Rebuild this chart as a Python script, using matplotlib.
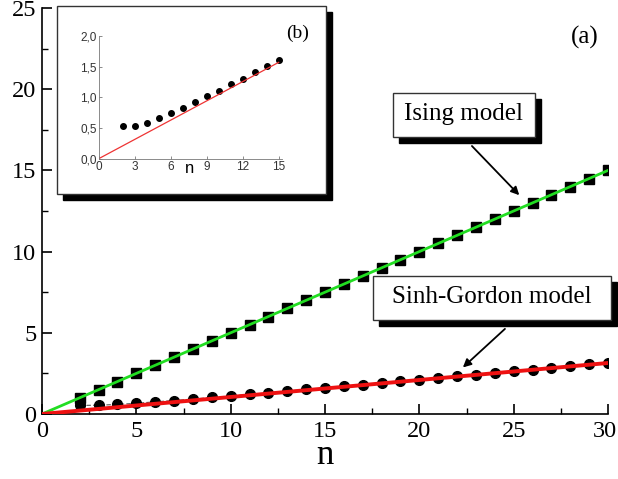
import matplotlib
matplotlib.use("Agg")
import matplotlib.pyplot as plt
from matplotlib.patches import Rectangle
from matplotlib.transforms import ScaledTranslation
import numpy as np

# ---- data ----
n_vals = list(range(2, 31))
ising_vals = [0.5 * n for n in n_vals]
sinh_vals = [0.53, 0.54, 0.59, 0.66, 0.75, 0.83, 0.92, 1.02, 1.11, 1.21, 1.30, 1.41, 1.51, 1.61,
             1.70, 1.81, 1.91, 2.01, 2.12, 2.22, 2.33, 2.43, 2.53, 2.64, 2.74, 2.85, 2.95, 3.06, 3.16]
line_x = [0, 30]
green_y = [0, 15]
red_y = [0, 3.1416]

inset_n = list(range(2, 16))
inset_vals = sinh_vals[:14]
inset_line_x = [0, 15]
inset_line_y = [0, 1.5708]

main_xticks = [0, 5, 10, 15, 20, 25, 30]
main_yticks = [0, 5, 10, 15, 20, 25]
inset_xticks = [0, 3, 6, 9, 12, 15]
inset_yticks = [0.0, 0.5, 1.0, 1.5, 2.0]
inset_ylabels = ["0,0", "0,5", "1,0", "1,5", "2,0"]

W, H = 618, 479
fig = plt.figure(figsize=(W / 100, H / 100), dpi=100)
serif = "Liberation Serif"

ax = fig.add_axes([42 / W, 1 - 414 / H, 566 / W, 406 / H])
ax.set_xlim(0, 30)
ax.set_ylim(0, 25)
for s in ["top", "right"]:
    ax.spines[s].set_visible(False)
for s in ["left", "bottom"]:
    ax.spines[s].set_linewidth(1.2)
ax.set_xticks(main_xticks)
ax.set_yticks(main_yticks)
ax.set_xticks(np.arange(2.5, 30, 5), minor=True)
ax.set_yticks(np.arange(2.5, 25, 5), minor=True)
ax.tick_params(which="major", direction="in", length=7, width=1.2, labelsize=17.5)
ax.tick_params(axis="x", which="major", pad=5)
ax.tick_params(axis="y", which="major", pad=4)
ax.tick_params(which="minor", direction="in", length=4, width=1.0)
for lab in ax.get_xticklabels() + ax.get_yticklabels():
    lab.set_fontfamily(serif)
last_tick = ax.xaxis.get_major_ticks()[-1]
last_tick.label1.set_transform(last_tick.label1.get_transform()
                               + ScaledTranslation(-3 / 100, 0, fig.dpi_scale_trans))
ax.set_xlabel("n", fontfamily=serif, fontsize=25, labelpad=-2)

ax.plot(n_vals, sinh_vals, color="#555555", lw=0.8, ls=(0, (4, 2)), zorder=2)
ax.plot(n_vals, ising_vals, ls="none", marker="s", ms=6.8, color="black", zorder=3)
ax.plot(n_vals, sinh_vals, ls="none", marker="o", ms=7, color="black", zorder=3)
ax.plot(line_x, green_y, color="#22dd22", lw=2.0, zorder=4)
ax.plot(line_x, red_y, color="#ee1111", lw=2.8, zorder=4)

fig.text(585 / W, 1 - 37 / H, "(a)", fontfamily=serif, fontsize=18, ha="center", va="center")

def shadow_box(x0, y0, x1, y1, off=6):
    # pixel coords from top-left
    fig.patches.append(Rectangle(((x0 + off) / W, 1 - (y1 + off) / H), (x1 - x0) / W, (y1 - y0) / H,
                                 transform=fig.transFigure, facecolor="black", edgecolor="black", zorder=5))
    fig.patches.append(Rectangle((x0 / W, 1 - y1 / H), (x1 - x0) / W, (y1 - y0) / H,
                                 transform=fig.transFigure, facecolor="white", edgecolor="#333333",
                                 lw=1.0, zorder=6))

shadow_box(393, 93, 535, 137, off=6)
fig.text(464 / W, 1 - 114 / H, "Ising model", fontfamily=serif, fontsize=18, ha="center", va="center", zorder=7)
shadow_box(373, 276, 611, 320, off=6)
fig.text(492 / W, 1 - 297 / H, "Sinh-Gordon model", fontfamily=serif, fontsize=18, ha="center", va="center", zorder=7)

ax.annotate("", xy=(25.4, 13.35), xycoords="data", xytext=(470, H - 144), textcoords="figure pixels",
            arrowprops=dict(arrowstyle="-|>", color="black", lw=1.3, mutation_scale=12), zorder=8)
ax.annotate("", xy=(22.2, 2.75), xycoords="data", xytext=(507, H - 327), textcoords="figure pixels",
            arrowprops=dict(arrowstyle="-|>", color="black", lw=1.3, mutation_scale=12), zorder=8)

# inset frame
shadow_box(57, 6, 326, 194, off=6)

axi = fig.add_axes([98.7 / W, 1 - 158.7 / H, 183 / W, 122.7 / H])
axi.set_zorder(10)
axi.patch.set_alpha(0)
axi.set_xlim(0, 15.25)
axi.set_ylim(0, 2.0)
for s in ["top", "right"]:
    axi.spines[s].set_visible(False)
for s in ["left", "bottom"]:
    axi.spines[s].set_linewidth(0.6)
    axi.spines[s].set_color("#777777")
axi.set_xticks(inset_xticks)
axi.set_yticks(inset_yticks)
axi.set_yticklabels(inset_ylabels)
axi.tick_params(direction="in", length=2, width=0.6, color="#777777", labelsize=8.5, pad=1.5,
                labelcolor="#333333")
for lab in axi.get_xticklabels() + axi.get_yticklabels():
    lab.set_fontfamily("Liberation Sans")
axi.plot(inset_n, inset_vals, ls="none", marker="o", ms=4.0, color="black")
axi.plot(inset_line_x, inset_line_y, color="#ee3333", lw=0.9)
fig.text(190 / W, 1 - 168 / H, "n", fontfamily="Liberation Sans", fontsize=12, ha="center", va="center", zorder=11)
fig.text(298 / W, 1 - 33 / H, "(b)", fontfamily=serif, fontsize=14, ha="center", va="center", zorder=11)

fig.savefig("out.png", dpi=100)
